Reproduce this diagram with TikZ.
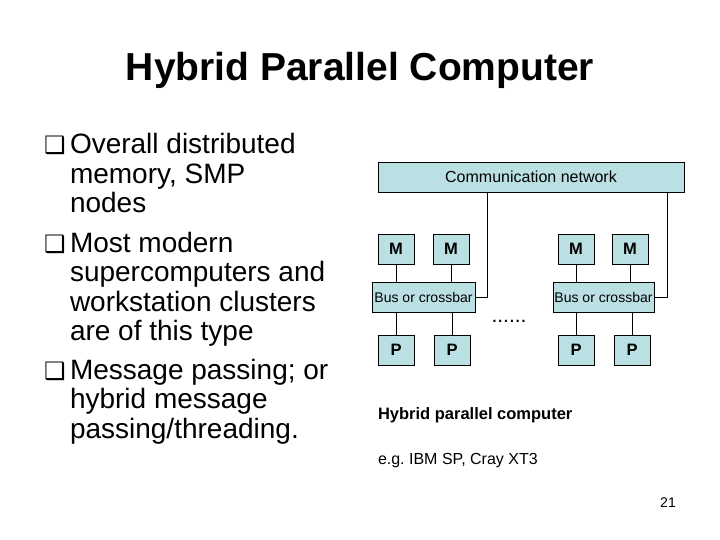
\documentclass[tikz,border=0pt]{standalone}
\usepackage{fontspec}
\setmainfont{Liberation Sans}
\newfontfamily\dejavu{DejaVu Sans}
\definecolor{boxblue}{RGB}{187,224,228}
\frenchspacing
\begin{document}
\begin{tikzpicture}[x=1pt,y=-1pt,
  every node/.style={inner sep=0pt, outer sep=0pt},
  unit/.style={draw=black, line width=0.9pt, fill=boxblue, minimum width=36pt, minimum height=30pt, font=\bfseries\fontsize{16.5}{16.5}\selectfont},
  busbox/.style={draw=black, line width=0.9pt, fill=boxblue, minimum height=30pt, font=\fontsize{14}{14}\selectfont},
  wire/.style={draw=black, line width=0.9pt},
  bodytext/.style={anchor=base west, align=left, font=\fontsize{28}{29.5}\selectfont},
  bulletmark/.style={anchor=base west, font=\dejavu\fontsize{24}{24}\selectfont}
]
\useasboundingbox (0,0) rectangle (720,540);
\fill[white] (0,0) rectangle (720,540);

% title
\node[anchor=base, font=\bfseries\fontsize{39}{39}\selectfont] (title) at (360,81) {Hybrid Parallel Computer};

% bullets (base anchor of a multi-line node = baseline of its last line)
\node[bulletmark] (b1) at (44,154) {❑};
\node[bodytext] (t1) at (70,213) {Overall distributed\\memory, SMP\\nodes};
\node[bulletmark] (b2) at (44,252) {❑};
\node[bodytext] (t2) at (70,340.5) {Most modern\\supercomputers and\\workstation clusters\\are of this type};
\node[bulletmark] (b3) at (44,379) {❑};
\node[bodytext] (t3) at (70,438) {Message passing; or\\hybrid message\\passing/threading.};

% network
\node[draw=black, line width=0.9pt, fill=boxblue, minimum width=306pt, minimum height=30pt, font=\fontsize{16}{16}\selectfont] (comm) at (531,177) {Communication network};

% left SMP node
\node[unit] (M1) at (396,249) {M};
\node[unit] (M2) at (451,249) {M};
\node[busbox, minimum width=103pt] (B1) at (423.5,297) {Bus or crossbar};
\node[unit] (P1) at (396,350) {P};
\node[unit] (P2) at (452,350) {P};

% right SMP node
\node[unit] (M3) at (576,249) {M};
\node[unit] (M4) at (630,249) {M};
\node[busbox, minimum width=101pt] (B2) at (603.5,297) {Bus or crossbar};
\node[unit] (P3) at (576,350) {P};
\node[unit] (P4) at (632,350) {P};

\node[font=\fontsize{21}{21}\selectfont] (dots) at (509,321) {......};

% connectors
\draw[wire] (M1.south) -- (M1.south |- B1.north);
\draw[wire] (M2.south) -- (M2.south |- B1.north);
\draw[wire] (P1.north) -- (P1.north |- B1.south);
\draw[wire] (P2.north) -- (P2.north |- B1.south);
\draw[wire] (M3.south) -- (M3.south |- B2.north);
\draw[wire] (M4.south) -- (M4.south |- B2.north);
\draw[wire] (P3.north) -- (P3.north |- B2.south);
\draw[wire] (P4.north) -- (P4.north |- B2.south);
\draw[wire] (B1.east) -| ([xshift=109pt]comm.south west);
\draw[wire] (B2.east) -| ([xshift=289pt]comm.south west);

% captions
\node[anchor=base west, font=\bfseries\fontsize{16.5}{16.5}\selectfont] (cap1) at (378,419) {Hybrid parallel computer};
\node[anchor=base west, font=\fontsize{16}{16}\selectfont] (cap2) at (378,464) {e.g. IBM SP, Cray XT3};

\node[font=\fontsize{14}{14}\selectfont] (page) at (668,503) {21};
\end{tikzpicture}
\end{document}
